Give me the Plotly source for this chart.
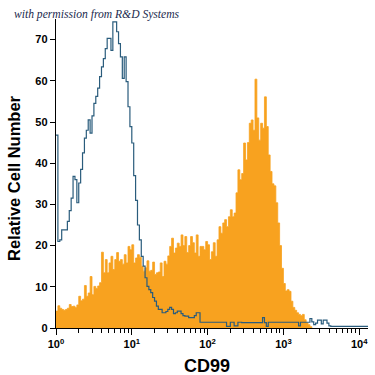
import numpy as np
import plotly.graph_objects as go

# Channel grid: 0.025 decade per channel, starting at 10^0
BIN_DECADE = 0.025

# CD99 stained cells (orange filled histogram), counts per channel
cd99_counts = [
    4.1, 5.4, 4.8, 4.5, 4.3, 4.5, 4.8, 5.7, 5.2, 5.3,
    5.0, 5.6, 7.7, 6.6, 7.0, 10.3, 7.7, 8.5, 12.5, 8.1,
    10.1, 9.6, 10.2, 11.0, 18.4, 13.4, 16.6, 13.4, 15.8, 17.4,
    14.2, 16.6, 18.3, 16.2, 16.6, 15.5, 17.8, 15.8, 19.8, 19.0,
    20.2, 15.8, 17.0, 17.8, 17.2, 15.0, 13.8, 14.6, 16.3, 13.8,
    14.0, 16.0, 13.0, 13.4, 13.6, 15.8, 12.5, 16.2, 15.5, 17.5,
    19.8, 21.8, 18.2, 19.4, 20.6, 19.8, 22.6, 20.0, 22.2, 18.3,
    20.0, 22.2, 20.7, 18.2, 22.6, 17.4, 19.8, 19.8, 19.0, 21.0,
    20.2, 16.6, 18.5, 20.7, 17.4, 21.4, 24.6, 23.0, 25.5, 26.3,
    24.6, 27.0, 28.7, 27.0, 27.9, 32.8, 38.4, 36.0, 37.5, 44.9,
    40.8, 45.0, 49.7, 50.5, 48.0, 60.4, 51.0, 45.6, 49.7, 48.5,
    56.1, 48.9, 42.0, 38.0, 35.0, 34.5, 30.4, 25.5, 20.0, 14.5,
    10.8, 9.0, 9.3, 8.9, 6.5, 5.0, 4.3, 3.7, 3.3, 3.0,
    3.3, 2.0, 1.2, 0.8, 0.3,
]

# Isotype control (blue outline histogram), counts per channel
isotype_counts = [
    46.8, 21.0, 21.4, 23.8, 23.8, 23.8, 25.9, 28.5, 31.5, 36.8,
    36.0, 30.4, 35.2, 38.5, 42.5, 46.1, 48.0, 50.5, 47.3, 51.5,
    54.5, 56.2, 58.2, 61.0, 63.4, 65.4, 67.8, 70.3, 70.3, 67.4,
    74.3, 74.3, 71.9, 69.0, 65.8, 60.6, 65.8, 59.8, 53.7, 48.9,
    44.9, 37.0, 31.0, 25.0, 21.4, 17.4, 15.0, 12.2, 10.1, 9.3,
    8.6, 7.4, 6.5, 5.3, 4.5, 4.5, 3.7, 3.7, 4.0, 4.5,
    5.0, 4.5, 3.5, 3.7, 4.1, 4.1, 3.5, 3.0, 2.9, 2.9,
    2.5, 2.5, 2.5, 3.0, 3.7, 3.7, 1.4, 1.4, 1.4, 1.4,
    1.4, 1.4, 1.4, 1.4, 1.4, 1.4, 1.4, 1.4, 1.4, 1.4,
    0.4, 0.4, 1.4, 1.4, 0.5, 0.5, 1.4, 1.4, 1.3, 1.3,
    1.3, 1.3, 1.3, 1.3, 1.3, 1.3, 1.3, 1.3, 1.3, 2.5,
    1.3, 0.4, 1.4, 1.4, 1.4, 1.4, 1.4, 1.4, 1.4, 1.4,
    1.4, 1.4, 1.4, 1.4, 1.4, 1.4, 1.4, 1.4, 0.5, 1.4,
    1.4, 1.4, 1.4, 1.4, 2.3, 1.5, 0.8, 1.2, 1.9, 1.9,
    1.0, 1.9, 1.9, 1.2, 0.5, 0.4, 0.4, 0.4, 0.4, 0.4,
    0.4, 0.4, 0.4, 0.4, 0.4, 0.4, 0.4, 0.4, 0.4, 0.4,
    0.4, 0.4, 0.4, 0.4, 0.4,
]

x_tick_vals = [1, 10, 100, 1000, 10000]
x_tick_text = ["10<sup>0</sup>", "10<sup>1</sup>", "10<sup>2</sup>",
               "10<sup>3</sup>", "10<sup>4</sup>"]
y_tick_vals = [0, 10, 20, 30, 40, 50, 60, 70]

x_title = "CD99"
y_title = "Relative Cell Number"
credit = "with permission from R&D Systems"


def step_xy(counts, close=False):
    n = len(counts)
    edges = 10 ** (np.arange(n + 1) * BIN_DECADE)
    xs = list(edges[:-1]) + [edges[-1]]
    ys = list(counts) + [counts[-1]]
    if close:
        xs = xs + [edges[-1]]
        ys = ys + [0]
    return xs, ys


ox, oy = step_xy(cd99_counts, close=True)
bx, by = step_xy(isotype_counts)

minor_vals = [d * 10 ** k for k in range(0, 4) for d in range(2, 10)]

fig = go.Figure()
fig.add_trace(go.Scatter(
    x=ox, y=oy, mode="lines", line_shape="hv",
    line=dict(color="#F8A21F", width=0.8),
    fill="tozeroy", fillcolor="#F8A21F",
    hoverinfo="skip", showlegend=False,
))
fig.add_trace(go.Scatter(
    x=bx, y=by, mode="lines", line_shape="hv",
    line=dict(color="#2A5C7C", width=1.2),
    hoverinfo="skip", showlegend=False,
))

tickfont = dict(family="Liberation Sans", size=11, color="black", weight="bold")

fig.update_layout(
    width=375, height=375,
    margin=dict(l=56, r=7, t=19, b=47, autoexpand=False),
    paper_bgcolor="white", plot_bgcolor="white",
    xaxis=dict(
        type="log", range=[0, 4.116], automargin=False,
        tickmode="array", tickvals=x_tick_vals, ticktext=x_tick_text,
        ticks="outside", ticklen=6, tickwidth=1, tickcolor="black",
        minor=dict(tickvals=minor_vals, ticks="outside", ticklen=4,
                   tickwidth=1, tickcolor="black", showgrid=False),
        showline=True, linecolor="black", linewidth=1.2,
        showgrid=False, zeroline=False,
        tickfont=tickfont,
    ),
    yaxis=dict(
        range=[0, 75], automargin=False,
        tickmode="array", tickvals=y_tick_vals,
        ticks="outside", ticklen=5, tickwidth=1, tickcolor="black",
        showline=True, linecolor="black", linewidth=1.2,
        showgrid=False, zeroline=False,
        tickfont=tickfont,
    ),
    annotations=[
        dict(text=credit, xref="paper", yref="paper", x=0.133, y=1.016,
             xanchor="center", yanchor="middle", showarrow=False,
             font=dict(family="Liberation Serif", size=11.6, color="#1B2A4E",
                       style="italic")),
        dict(text=x_title, xref="paper", yref="paper", x=0.484, y=-0.123,
             xanchor="center", yanchor="middle", showarrow=False,
             font=dict(family="Liberation Sans", size=18, color="black",
                       weight="bold")),
        dict(text=y_title, xref="paper", yref="paper", x=-0.135, y=0.485,
             xanchor="center", yanchor="middle", showarrow=False,
             textangle=-90,
             font=dict(family="Liberation Sans", size=16.5, color="black",
                       weight="bold")),
    ],
)

fig.write_html(
    "out.html",
    config={"displayModeBar": False, "staticPlot": True},
    post_script="document.body.style.margin='0';document.body.style.overflow='hidden';",
)
